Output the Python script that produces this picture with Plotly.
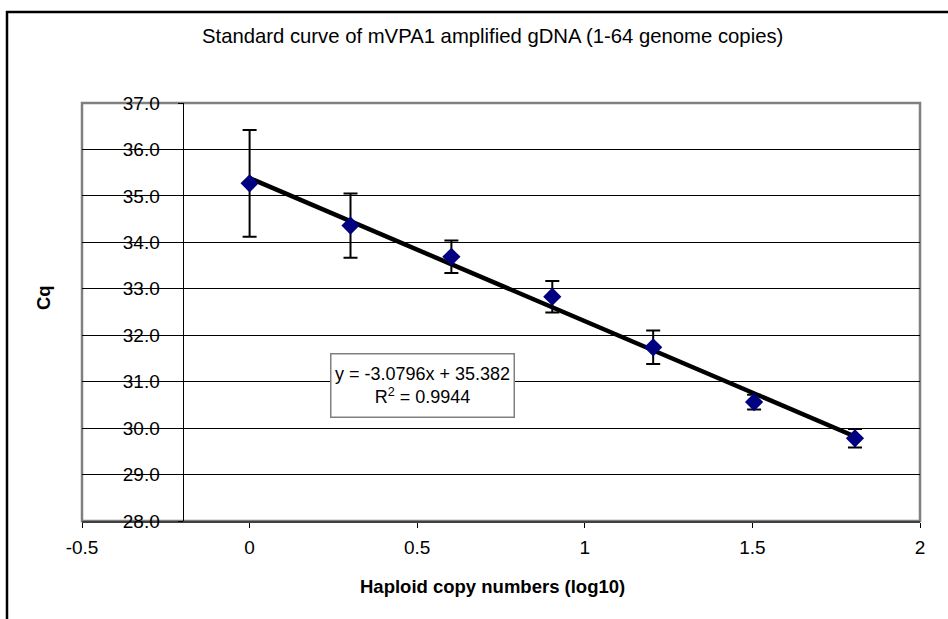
import plotly.graph_objects as go

# ---- data ----
log_copies = [0.0, 0.301, 0.602, 0.903, 1.204, 1.505, 1.806]
cq_mean = [35.27, 34.36, 33.69, 32.83, 31.74, 30.56, 29.78]
cq_err = [1.15, 0.69, 0.35, 0.34, 0.36, 0.16, 0.20]
slope = -3.0796
intercept = 35.382
r_squared = 0.9944
x_ticks = [-0.5, 0, 0.5, 1, 1.5, 2]
x_ticktext = ["-0.5", "0", "0.5", "1", "1.5", "2"]
y_ticks = [28, 29, 30, 31, 32, 33, 34, 35, 36, 37]

FONT = "Liberation Sans, Arial, sans-serif"

W, H = 948, 619
L, R, T, B = 82, 28, 103, 98
pw, ph = W - L - R, H - T - B


def px_x(px):
    return (px - L) / pw


def px_y(py):
    return (H - B - py) / ph


fig = go.Figure()

trend_x = [log_copies[0], log_copies[-1]]
trend_y = [slope * v + intercept for v in trend_x]
fig.add_trace(go.Scatter(
    x=trend_x, y=trend_y, mode="lines",
    line=dict(color="black", width=4.5), hoverinfo="skip", showlegend=False))

fig.add_trace(go.Scatter(
    x=log_copies, y=cq_mean, mode="markers",
    marker=dict(symbol="diamond", size=14, color="#000080", line=dict(width=0)),
    error_y=dict(type="data", array=cq_err, visible=True, color="black", thickness=2, width=7),
    showlegend=False))

# plot-area frame
fig.add_shape(type="rect", xref="paper", yref="paper", x0=0, x1=1, y0=0, y1=1,
              line=dict(color="#808080", width=2.5), layer="below")
# outer chart border (only top and left edges visible)
fig.add_shape(type="line", xref="paper", yref="paper",
              x0=px_x(6), x1=px_x(948), y0=px_y(12), y1=px_y(12),
              line=dict(color="black", width=2.5), layer="above")
fig.add_shape(type="line", xref="paper", yref="paper",
              x0=px_x(7), x1=px_x(7), y0=px_y(11), y1=px_y(640),
              line=dict(color="black", width=2.5), layer="above")

fig.add_annotation(text="Standard curve of mVPA1 amplified gDNA (1-64 genome copies)",
                   xref="paper", yref="paper", x=px_x(492), y=px_y(36),
                   xanchor="center", yanchor="middle",
                   showarrow=False, font=dict(family=FONT, size=20.3, color="black"))
fig.add_annotation(text="<b>Haploid copy numbers (log10)</b>",
                   xref="paper", yref="paper", x=px_x(492), y=px_y(586),
                   xanchor="center", yanchor="middle",
                   showarrow=False, font=dict(family=FONT, size=18.5, color="black"))
fig.add_annotation(text="<b>Cq</b>", textangle=-90,
                   xref="paper", yref="paper", x=px_x(43), y=px_y(298),
                   xanchor="center", yanchor="middle",
                   showarrow=False, font=dict(family=FONT, size=18.5, color="black"))
fig.add_annotation(text=f"y = {slope}x + {intercept}<br>R<sup>2</sup> = {r_squared}",
                   xref="paper", yref="paper", x=px_x(422), y=px_y(385),
                   xanchor="center", yanchor="middle",
                   showarrow=False, align="center", valign="middle",
                   width=180, height=60,
                   bordercolor="#808080", borderwidth=1.5, borderpad=1, bgcolor="white",
                   font=dict(family=FONT, size=18, color="black"))

fig.update_layout(
    width=W, height=H,
    margin=dict(l=L, r=R, t=T, b=B, autoexpand=False),
    paper_bgcolor="white", plot_bgcolor="white",
    font=dict(family=FONT, size=19, color="black"),
    xaxis=dict(range=[-0.5, 2], tickvals=x_ticks, ticktext=x_ticktext,
               showgrid=False, zeroline=False, showline=True, linecolor="#404040", linewidth=1.5,
               ticks="outside", ticklen=5, tickcolor="black", tickwidth=1,
               ticklabelstandoff=3,
               tickfont=dict(family=FONT, size=19, color="black")),
    yaxis=dict(range=[28, 37], tickvals=y_ticks, tickformat=".1f",
               anchor="free", position=0.12,
               showgrid=True, gridcolor="black", gridwidth=1, zeroline=False,
               showline=True, linecolor="black", linewidth=1,
               ticks="outside", ticklen=5, tickcolor="black", tickwidth=1,
               ticklabelstandoff=14,
               tickfont=dict(family=FONT, size=19, color="black")),
)

fig.write_html("out.html", config={"displayModeBar": False},
               post_script="document.body.style.margin='0';document.documentElement.style.overflow='hidden';")
